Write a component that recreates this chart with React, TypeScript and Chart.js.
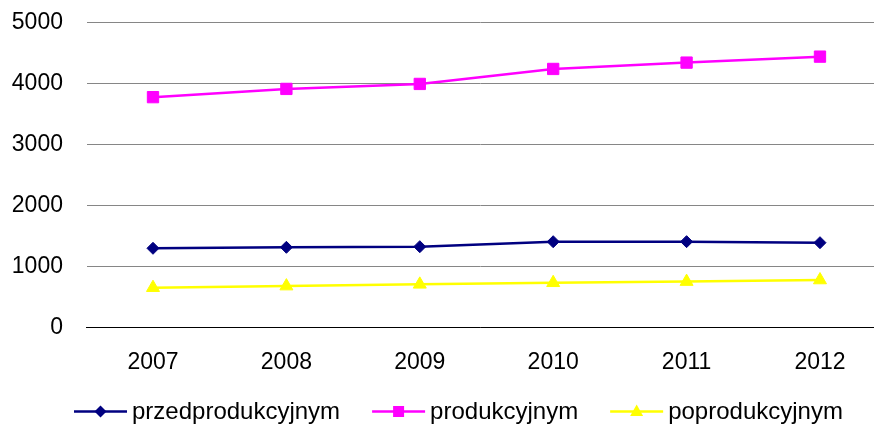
import React, { useEffect, useRef } from 'react';
import { Chart, registerables } from 'chart.js';

Chart.register(...registerables);

const years = [2007, 2008, 2009, 2010, 2011, 2012];
const przedprodukcyjnym = [1297, 1313, 1323, 1405, 1406, 1389];
const produkcyjnym = [3778, 3913, 3995, 4241, 4345, 4443];
const poprodukcyjnym = [650, 676, 705, 731, 750, 776];
const seriesNames = ['przedprodukcyjnym', 'produkcyjnym', 'poprodukcyjnym'];
const seriesColors = ['#000080', '#FF00FF', '#FFFF00'];
const yMin = 0;
const yMax = 5000;
const yStep = 1000;

const FONT = '"Liberation Sans", Arial, sans-serif';
const markerShapes = ['diamond', 'square', 'triangle'];

function drawMarker(ctx: CanvasRenderingContext2D, shape: string, cx: number, cy: number) {
  ctx.beginPath();
  if (shape === 'diamond') {
    ctx.moveTo(cx - 6, cy);
    ctx.lineTo(cx, cy - 6);
    ctx.lineTo(cx + 6, cy);
    ctx.lineTo(cx, cy + 6);
    ctx.closePath();
  } else if (shape === 'square') {
    ctx.rect(cx - 5.5, cy - 5.5, 11, 11);
  } else {
    ctx.moveTo(cx, cy - 7);
    ctx.lineTo(cx + 6.5, cy + 4.5);
    ctx.lineTo(cx - 6.5, cy + 4.5);
    ctx.closePath();
  }
  ctx.fill();
}

const lineLegend = {
  id: 'lineLegend',
  afterDraw(chart: any) {
    const ctx: CanvasRenderingContext2D = chart.ctx;
    const y = chart.height - 13.5;
    let x = 74;
    ctx.save();
    ctx.font = `24px ${FONT}`;
    ctx.textBaseline = 'middle';
    ctx.textAlign = 'left';
    chart.data.datasets.forEach((ds: any, i: number) => {
      ctx.strokeStyle = ds.borderColor;
      ctx.fillStyle = ds.borderColor;
      ctx.lineWidth = 2.5;
      ctx.beginPath();
      ctx.moveTo(x, y);
      ctx.lineTo(x + 53, y);
      ctx.stroke();
      drawMarker(ctx, markerShapes[i], x + 26.5, y);
      ctx.fillStyle = '#000';
      ctx.fillText(ds.label, x + 58, y + 1);
      x += 58 + ctx.measureText(ds.label).width + 32;
    });
    ctx.restore();
  },
};

export default function App() {
  const ref = useRef<HTMLCanvasElement | null>(null);

  useEffect(() => {
    if (!ref.current) return;
    const series = [przedprodukcyjnym, produkcyjnym, poprodukcyjnym];
    const pointStyles = ['rectRot', 'rect', 'triangle'];
    const radii = [6, 8, 7.5];

    const chart = new Chart(ref.current, {
      type: 'line',
      data: {
        datasets: series.map((arr, i) => ({
          label: seriesNames[i],
          data: years.map((x, j) => ({ x, y: arr[j] })),
          borderColor: seriesColors[i],
          backgroundColor: seriesColors[i],
          pointBackgroundColor: seriesColors[i],
          pointBorderColor: seriesColors[i],
          pointBorderWidth: 1,
          pointStyle: pointStyles[i] as any,
          pointRadius: radii[i],
          borderWidth: 2.5,
          tension: 0,
          fill: false,
        })),
      },
      options: {
        animation: false,
        responsive: false,
        layout: {
          autoPadding: false,
          padding: { left: 11.8, right: 0, top: 22.7, bottom: 27.9 },
        },
        scales: {
          x: {
            type: 'linear',
            min: 2006.505,
            max: 2012.405,
            afterBuildTicks: (s: any) => {
              s.ticks = years.map((v) => ({ value: v }));
            },
            afterFit: (s: any) => {
              s.paddingLeft = 0;
              s.paddingRight = 0;
            },
            ticks: {
              callback: (v: any) => String(v),
              font: { family: FONT, size: 23 },
              color: '#000',
              padding: 21.1,
              maxRotation: 0,
              autoSkip: false,
            },
            grid: { display: false, drawTicks: false },
            border: { display: true, color: '#000', width: 1 },
          },
          y: {
            min: yMin,
            max: yMax,
            afterFit: (s: any) => {
              s.width = s.width - s.options.ticks.padding;
              s.paddingTop = 0;
              s.paddingBottom = 0;
            },
            ticks: {
              stepSize: yStep,
              callback: (v: any) => String(v),
              font: { family: FONT, size: 23 },
              color: '#000',
              padding: 24,
            },
            grid: { color: '#868686', lineWidth: 1, drawTicks: false },
            border: { display: false },
          },
        },
        plugins: {
          tooltip: { enabled: false },
          legend: { display: false },
        },
      },
      plugins: [lineLegend],
    });
    return () => chart.destroy();
  }, []);

  return (
    <canvas
      ref={ref}
      width={874}
      height={425}
      style={{ position: 'absolute', left: 0, top: 0, display: 'block' }}
    />
  );
}
